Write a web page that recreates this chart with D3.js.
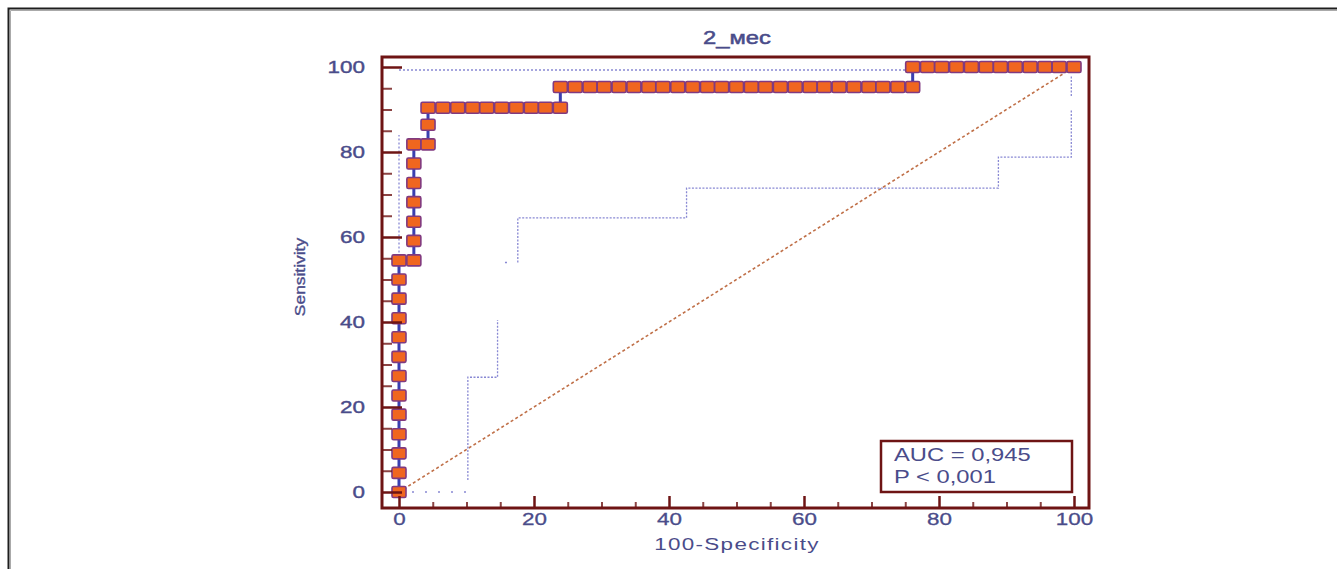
<!DOCTYPE html>
<html>
<head>
  <meta charset="utf-8">
  <title>ROC 2_мес</title>
  <script src="https://cdn.jsdelivr.net/npm/d3@7/dist/d3.min.js"></script>
  <style>
    body { margin: 0; background: #fff; }
    text { font-family: "Liberation Sans", Arial, sans-serif; fill: #4a4c8a; }
    .axis path { display: none; }
    .axis line { stroke: #6e1414; }
  </style>
</head>
<body>
  <svg id="chart"></svg>
  <script>
    // ROC curve points (100-Specificity, Sensitivity)
    var rocX = [0, 0, 0, 0, 0, 0, 0, 0, 0, 0, 0, 0, 0,
      2.2, 2.2, 2.2, 2.2, 2.2, 2.2, 2.2,
      4.3, 4.3, 4.3,
      6.5, 8.7, 10.9, 13.0, 15.2, 17.4, 19.6, 21.7, 23.9,
      23.9, 26.1, 28.3, 30.4, 32.6, 34.8, 37.0, 39.1, 41.3, 43.5, 45.7, 47.8, 50.0,
      52.2, 54.3, 56.5, 58.7, 60.9, 63.0, 65.2, 67.4, 69.6, 71.7, 73.9, 76.1,
      76.1, 78.3, 80.4, 82.6, 84.8, 87.0, 89.1, 91.3, 93.5, 95.7, 97.8, 100];
    var rocY = [0, 4.5, 9.1, 13.6, 18.2, 22.7, 27.3, 31.8, 36.4, 40.9, 45.5, 50.0, 54.5,
      54.5, 59.1, 63.6, 68.2, 72.7, 77.3, 81.8,
      81.8, 86.4, 90.4,
      90.4, 90.4, 90.4, 90.4, 90.4, 90.4, 90.4, 90.4, 90.4,
      95.3, 95.3, 95.3, 95.3, 95.3, 95.3, 95.3, 95.3, 95.3, 95.3, 95.3, 95.3, 95.3,
      95.3, 95.3, 95.3, 95.3, 95.3, 95.3, 95.3, 95.3, 95.3, 95.3, 95.3, 95.3,
      100, 100, 100, 100, 100, 100, 100, 100, 100, 100, 100, 100];

    // confidence bounds (null = gap)
    var lowerX = [10.2, 10.2, 14.6, 14.6, null, 17.6, 17.6, 42.6, 42.6, 88.8, 88.8, 99.6, 99.6, null, 99.6, 99.6];
    var lowerY = [2.8, 27, 27, 40.5, null, 54, 64.5, 64.5, 71.5, 71.5, 78.8, 78.8, 89.9, null, 93.2, 97.9];
    var lowerDotsX = [0, 10.2, null, 15.7, 17.6];
    var lowerDotsY = [0, 0, null, 54, 54];
    var upperX = [0, 0, null, 0, 76, 76, 100];
    var upperY = [54.5, 84, null, 99.3, 99.3, 99.6, 99.6];

    var majorTicks = [0, 20, 40, 60, 80, 100];
    var minorTicks = [5, 10, 15, 25, 30, 35, 45, 50, 55, 65, 70, 75, 85, 90, 95];

    var title = '2_мес';
    var xTitle = '100-Specificity';
    var yTitle = 'Sensitivity';
    var statLines = ['AUC = 0,945', 'P < 0,001'];

    var W = 1337, H = 569;
    var frame = { left: 382, top: 57, right: 1089, bottom: 508 };
    var sx = 1.32; // horizontal stretch of the original lettering

    var svg = d3.select('#chart').attr('width', W).attr('height', H);

    // page border
    svg.append('path').attr('d', 'M8.5,' + H + 'V8.5H' + W)
      .attr('fill', 'none').attr('stroke', '#1e1e1e').attr('stroke-width', 2);
    svg.append('path').attr('d', 'M10.5,' + H + 'V10.5H' + W)
      .attr('fill', 'none').attr('stroke', '#aaa').attr('stroke-width', 1);

    var x = d3.scaleLinear().domain([0, 100]).range([399, 1074]);
    var y = d3.scaleLinear().domain([0, 100]).range([492, 67]);

    function stretch(sel) {
      sel.each(function () {
        var t = d3.select(this);
        var tx = +t.attr('x') || 0;
        t.attr('x', tx / sx).attr('transform', 'scale(' + sx + ',1)');
      });
    }

    // diagonal reference line
    svg.append('line')
      .attr('x1', x(0)).attr('y1', y(0)).attr('x2', x(100)).attr('y2', y(100))
      .attr('stroke', '#c07048').attr('stroke-width', 1.6)
      .attr('stroke-dasharray', '3,2.5');

    // confidence bounds
    var ciLine = d3.line()
      .defined(function (d) { return d[0] !== null; })
      .x(function (d) { return x(d[0]); })
      .y(function (d) { return y(d[1]); });

    function ci(xs, ys, dash) {
      svg.append('path')
        .datum(d3.zip(xs, ys))
        .attr('d', ciLine)
        .attr('fill', 'none').attr('stroke', '#6a6ac8').attr('stroke-width', 1.3)
        .attr('stroke-dasharray', dash).attr('opacity', 0.8);
    }
    ci(lowerX, lowerY, '2,1.5');
    ci(lowerDotsX, lowerDotsY, '2,11');
    ci(upperX, upperY, '2,2');

    // ROC step curve
    var roc = d3.zip(rocX, rocY);
    svg.append('path')
      .datum(roc)
      .attr('d', d3.line().x(function (d) { return x(d[0]); }).y(function (d) { return y(d[1]); }))
      .attr('fill', 'none').attr('stroke', '#3a3fb0').attr('stroke-width', 3);

    svg.selectAll('.pt')
      .data(roc)
      .enter()
      .append('rect')
      .attr('class', 'pt')
      .attr('x', function (d) { return x(d[0]) - 7; })
      .attr('y', function (d) { return y(d[1]) - 5.5; })
      .attr('width', 14).attr('height', 11).attr('rx', 1.5)
      .attr('fill', '#f0661f').attr('stroke', '#803a80').attr('stroke-width', 1.6);

    // axes, ticks pointing inward
    var gy = svg.append('g').attr('class', 'axis')
      .attr('transform', 'translate(' + frame.left + ',0)')
      .call(d3.axisLeft(y).tickValues(majorTicks).tickSize(-20).tickPadding(17));
    gy.selectAll('line').attr('stroke-width', 2.5);
    gy.selectAll('text').attr('font-size', 17).attr('fill', '#4a4c8a')
      .attr('stroke', '#4a4c8a').attr('stroke-width', 0.4).call(stretch);

    svg.append('g').attr('class', 'axis')
      .attr('transform', 'translate(' + frame.left + ',0)')
      .call(d3.axisLeft(y).tickValues(minorTicks).tickSize(-10).tickFormat(''))
      .selectAll('line').attr('stroke-width', 2).attr('opacity', 0.8);

    var gx = svg.append('g').attr('class', 'axis')
      .attr('transform', 'translate(0,' + frame.bottom + ')')
      .call(d3.axisBottom(x).tickValues(majorTicks).tickSize(-12).tickPadding(5));
    gx.selectAll('line').attr('stroke-width', 2.5);
    gx.selectAll('text').attr('font-size', 17).attr('fill', '#4a4c8a')
      .attr('stroke', '#4a4c8a').attr('stroke-width', 0.3).call(stretch);

    svg.append('g').attr('class', 'axis')
      .attr('transform', 'translate(0,' + frame.bottom + ')')
      .call(d3.axisBottom(x).tickValues(minorTicks).tickSize(-6).tickFormat(''))
      .selectAll('line').attr('stroke-width', 2).attr('opacity', 0.8);

    // plot frame
    svg.append('rect')
      .attr('x', frame.left).attr('y', frame.top)
      .attr('width', frame.right - frame.left).attr('height', frame.bottom - frame.top)
      .attr('fill', 'none').attr('stroke', '#6e1414').attr('stroke-width', 3);

    // AUC box
    svg.append('rect')
      .attr('x', 881).attr('y', 441).attr('width', 191).attr('height', 51)
      .attr('fill', '#fff').attr('stroke', '#6e1414').attr('stroke-width', 2.5);
    svg.selectAll('.stat')
      .data(statLines)
      .enter()
      .append('text')
      .attr('class', 'stat')
      .attr('x', 894).attr('y', function (d, i) { return 461 + i * 22; })
      .attr('font-size', 18)
      .text(function (d) { return d; })
      .call(stretch);

    // titles
    svg.append('text')
      .attr('x', 737).attr('y', 44)
      .attr('text-anchor', 'middle').attr('font-size', 18)
      .attr('stroke', '#4a4c8a').attr('stroke-width', 0.5)
      .text(title).call(stretch);

    svg.append('text')
      .attr('x', 737).attr('y', 550)
      .attr('text-anchor', 'middle').attr('font-size', 17)
      .attr('letter-spacing', 1)
      .text(xTitle).call(stretch);

    svg.append('text')
      .attr('transform', 'translate(305,277) rotate(-90) scale(1.45,1.15)')
      .attr('text-anchor', 'middle').attr('font-size', 12)
      .attr('stroke', '#4a4c8a').attr('stroke-width', 0.3)
      .text(yTitle);
  </script>
</body>
</html>
